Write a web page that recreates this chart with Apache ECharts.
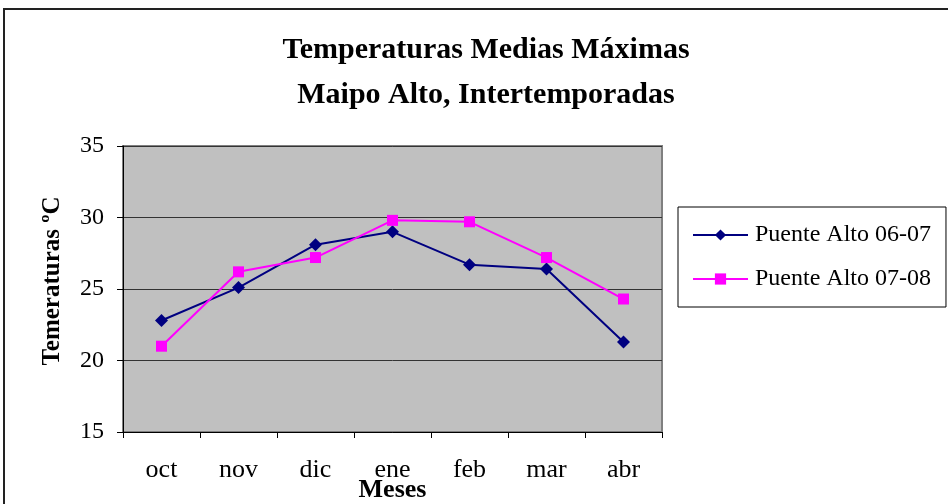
<!DOCTYPE html>
<html><head><meta charset="utf-8">
<script src="https://cdn.jsdelivr.net/npm/echarts@6/dist/echarts.min.js"></script>
<style>html,body{margin:0;padding:0;background:#fff}#c{width:948px;height:504px}</style>
</head><body><div id="c"></div>
<script>
const categories = ['oct','nov','dic','ene','feb','mar','abr'];
const serie0607 = [22.8, 25.1, 28.1, 29.0, 26.7, 26.4, 21.3];
const serie0708 = [21.0, 26.2, 27.2, 29.8, 29.7, 27.2, 24.3];
const seriesNames = ['Puente Alto 06-07', 'Puente Alto 07-08'];
const titleLines = ['Temperaturas Medias Máximas', 'Maipo Alto, Intertemporadas'];

const FONT = "'Liberation Serif', 'Times New Roman', serif";
const chart = echarts.init(document.getElementById('c'), null, {renderer: 'canvas'});
chart.setOption({
  animation: false,
  backgroundColor: '#fff',
  textStyle: {fontFamily: FONT},
  graphic: [{
    type: 'rect', shape: {x: 4, y: 9, width: 1000, height: 600},
    style: {fill: 'none', stroke: '#222', lineWidth: 2}, z: -1
  }],
  title: {
    text: titleLines.join('\n'),
    left: 481, textAlign: 'center', top: 23,
    textStyle: {fontFamily: FONT, fontSize: 30, fontWeight: 'bold', color: '#000', lineHeight: 45}
  },
  legend: {
    orient: 'vertical', left: 678, top: 207,
    padding: [15, 15, 15, 14], itemGap: 18,
    itemWidth: 55, itemHeight: 14,
    borderColor: '#000', borderWidth: 1,
    textStyle: {fontFamily: FONT, fontSize: 24, color: '#000', padding: [0, 0, 0, 2], lineHeight: 26},
    data: seriesNames
  },
  grid: {
    left: 123, top: 146, right: 286, bottom: 72,
    outerBoundsMode: 'none', containLabel: false,
    show: true, backgroundColor: '#C0C0C0', borderColor: '#808080', borderWidth: 2
  },
  xAxis: {
    type: 'category', data: categories, boundaryGap: true,
    name: 'Meses', nameLocation: 'middle', nameGap: 45, nameMoveOverlap: false,
    nameTextStyle: {fontFamily: FONT, fontSize: 26, fontWeight: 'bold', color: '#000'},
    axisLine: {lineStyle: {color: '#000', width: 1}},
    axisTick: {show: true, inside: false, length: 6, lineStyle: {color: '#000'}},
    axisLabel: {margin: 25, fontFamily: FONT, fontSize: 26, color: '#000'},
    splitLine: {show: false}
  },
  yAxis: {
    type: 'value', min: 15, max: 35, interval: 5,
    name: 'Temeraturas ºC', nameLocation: 'middle', nameGap: 58, nameRotate: 90,
    nameTextStyle: {fontFamily: FONT, fontSize: 25, fontWeight: 'bold', color: '#000', padding: [0, 0, 0, 16]},
    axisLine: {show: true, lineStyle: {color: '#000', width: 1}},
    axisTick: {show: true, inside: false, length: 6, lineStyle: {color: '#000'}},
    axisLabel: {margin: 19, fontFamily: FONT, fontSize: 24, color: '#000'},
    splitLine: {show: true, lineStyle: {color: '#333', width: 1}}
  },
  series: [{
    name: seriesNames[0], type: 'line', data: serie0607,
    symbol: 'diamond', symbolSize: 13,
    lineStyle: {color: '#000080', width: 2},
    itemStyle: {color: '#000080'}
  }, {
    name: seriesNames[1], type: 'line', data: serie0708,
    symbol: 'rect', symbolSize: 11,
    lineStyle: {color: '#FF00FF', width: 2},
    itemStyle: {color: '#FF00FF'}
  }]
});
</script></body></html>
